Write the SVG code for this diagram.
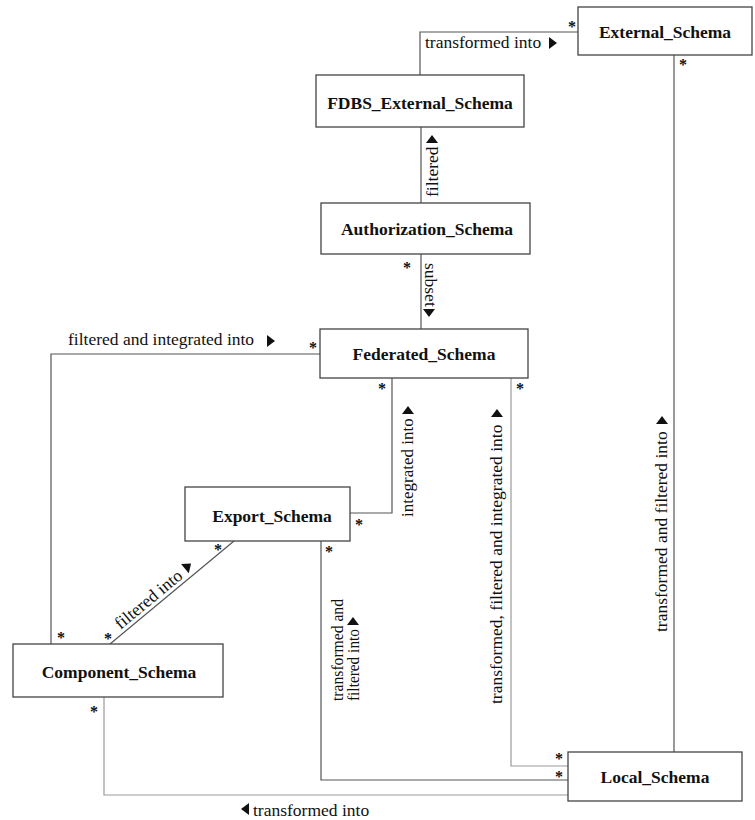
<svg xmlns="http://www.w3.org/2000/svg" xmlns:xlink="http://www.w3.org/1999/xlink" width="755" height="820" viewBox="0 0 755 820">
<style>
.box{fill:#fff;stroke:#444;stroke-width:1.3}
.title{font-family:"Liberation Serif","Times New Roman",serif;font-weight:bold;font-size:17.5px;fill:#111;text-anchor:middle}
.lbl{font-family:"Liberation Serif","Times New Roman",serif;font-size:17.5px;fill:#111}
.star{font-family:"Liberation Serif","Times New Roman",serif;font-weight:bold;font-size:16px;fill:#111;text-anchor:middle}
.ln{fill:none;stroke:#555;stroke-width:1.2}
.ln2{fill:none;stroke:#9a9a9a;stroke-width:1.2}
.tri{fill:#111}
</style>
<defs>
<path id="tri" class="tri" d="M-4,-6 L4,0 L-4,6 Z"/>
</defs>
<rect width="755" height="820" fill="#fff"/>
<g id="connectors">
<polyline class="ln" points="420,75 420,32 578,32"/>
<polyline class="ln" points="674,55 674,752"/>
<polyline class="ln" points="421,127 421,203"/>
<polyline class="ln" points="421,254 421,329"/>
<polyline class="ln" points="320,354 51,354 51,644"/>
<polyline class="ln" points="350,513 392,513 392,378"/>
<polyline class="ln" points="234,541 110,644"/>
<polyline class="ln" points="321,541 321,780 568,780"/>
<polyline class="ln2" points="511,378 511,766 568,766"/>
<polyline class="ln2" points="104,697 104,795 568,795"/>

<text class="lbl" x="425" y="48">transformed into</text>
<use xlink:href="#tri" transform="translate(553,43)"/>
<text class="star" x="572" y="32">*</text>

<text class="star" x="683" y="70">*</text>
<text class="lbl" transform="translate(667,632) rotate(-90)">transformed and filtered into</text>
<use xlink:href="#tri" transform="translate(662,420) rotate(-90)"/>

<text class="lbl" transform="translate(438,197) rotate(-90)">filtered</text>
<use xlink:href="#tri" transform="translate(432,139) rotate(-90)"/>

<text class="star" x="407" y="273">*</text>
<text class="lbl" transform="translate(425,263) rotate(90)">subset</text>
<use xlink:href="#tri" transform="translate(429,313) rotate(90)"/>

<text class="lbl" x="68" y="345">filtered and integrated into</text>
<use xlink:href="#tri" transform="translate(271,341)"/>
<text class="star" x="313" y="353">*</text>
<text class="star" x="61" y="643">*</text>

<text class="star" x="382" y="394">*</text>
<text class="star" x="359" y="530">*</text>
<text class="lbl" style="font-size:17px" transform="translate(413,517) rotate(-90)">integrated into</text>
<use xlink:href="#tri" transform="translate(408,410) rotate(-90)"/>

<text class="star" x="218" y="555">*</text>
<text class="star" x="108" y="644">*</text>
<text class="lbl" transform="translate(120.5,630) rotate(-39.7)">filtered into</text>
<use xlink:href="#tri" transform="translate(188,566) rotate(-39.7)"/>

<text class="star" x="329" y="557">*</text>
<text class="star" x="559" y="782">*</text>
<text class="lbl" transform="translate(343,701) rotate(-90)" textLength="102" lengthAdjust="spacingAndGlyphs">transformed and</text>
<text class="lbl" transform="translate(359,701) rotate(-90)" textLength="72" lengthAdjust="spacingAndGlyphs">filtered into</text>
<use xlink:href="#tri" transform="translate(353,621) rotate(-90)"/>

<text class="star" x="520" y="394">*</text>
<text class="star" x="559" y="764">*</text>
<text class="lbl" transform="translate(502,704) rotate(-90)">transformed, filtered and integrated into</text>
<use xlink:href="#tri" transform="translate(497,413) rotate(-90)"/>

<text class="star" x="94" y="717">*</text>
<text class="lbl" x="253" y="816">transformed into</text>
<use xlink:href="#tri" transform="translate(245,809) rotate(180)"/>
</g>
<g id="External_Schema"><rect class="box" x="578" y="7" width="174" height="48"/><text class="title" x="665" y="38">External_Schema</text></g>
<g id="FDBS_External_Schema"><rect class="box" x="316" y="75" width="208" height="52"/><text class="title" x="420" y="109">FDBS_External_Schema</text></g>
<g id="Authorization_Schema"><rect class="box" x="321" y="203" width="209" height="51"/><text class="title" x="427" y="235">Authorization_Schema</text></g>
<g id="Federated_Schema"><rect class="box" x="320" y="329" width="208" height="49"/><text class="title" x="424" y="360">Federated_Schema</text></g>
<g id="Export_Schema"><rect class="box" x="185" y="487" width="165" height="54"/><text class="title" x="272" y="522">Export_Schema</text></g>
<g id="Component_Schema"><rect class="box" x="13" y="644" width="210" height="53"/><text class="title" x="119" y="678">Component_Schema</text></g>
<g id="Local_Schema"><rect class="box" x="568" y="752" width="174" height="49"/><text class="title" x="655" y="783">Local_Schema</text></g>
</svg>
